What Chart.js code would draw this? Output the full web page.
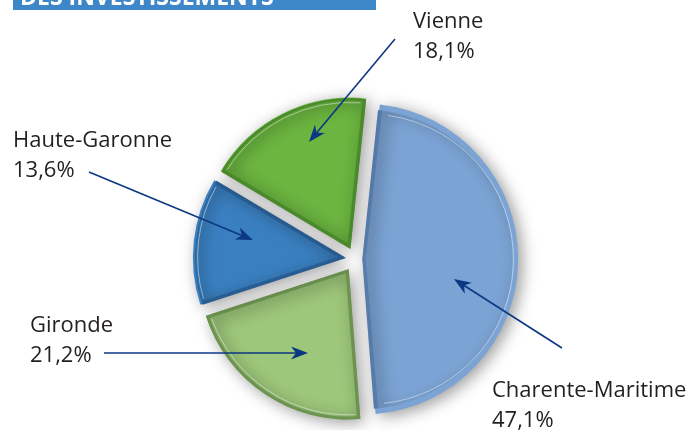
<!DOCTYPE html>
<html>
<head>
<meta charset="utf-8">
<script src="https://cdn.jsdelivr.net/npm/chart.js@4"></script>
<style>
    body { margin: 0; background: #fff; }
    #pie { display: block; }
</style>
</head>
<body>
<canvas id="pie" width="691" height="430"></canvas>
<script>
const departements = ['Charente-Maritime', 'Gironde', 'Haute-Garonne', 'Vienne'];
const parts = [47.1, 21.2, 13.6, 18.1];
const couleurs = ['#7ba3d3', '#9dc77a', '#3a80c1', '#6bb540'];
const bordures = ['#587ead', '#6c9450', '#285d93', '#4a8a2b'];

// positions of the labels and of the arrows (layout only)
const etiquettes = [
    { x: 492, y: 397, from: [562, 348], to: [454, 279] },
    { x: 30, y: 332, from: [104, 353], to: [308, 353] },
    { x: 13, y: 147, from: [89, 172], to: [253, 240] },
    { x: 413, y: 28, from: [395, 39], to: [309, 142] }
];

const titre = 'DES INVESTISSEMENTS';
const ECART = 13; // how far each slice is pulled out, in px

const formatPct = v => v.toFixed(1).replace('.', ',') + '%';

// Chart.js moves an arc by offset/4 * (2 - sin(angle)); undo that so every slice moves ECART px
function facteur(i) {
    const total = parts.reduce((a, b) => a + b, 0);
    const a = parts[i] / total * 2 * Math.PI;
    return (2 - Math.sin(Math.min(Math.PI, a))) / 4;
}

function drawArrow(ctx, from, to) {
    const ang = Math.atan2(to[1] - from[1], to[0] - from[0]);
    const len = 17, half = 6.5, notch = 12;
    ctx.save();
    ctx.strokeStyle = '#0c3783';
    ctx.fillStyle = '#0c3783';
    ctx.lineWidth = 1.6;
    ctx.beginPath();
    ctx.moveTo(from[0], from[1]);
    ctx.lineTo(to[0] - Math.cos(ang) * notch, to[1] - Math.sin(ang) * notch);
    ctx.stroke();
    ctx.translate(to[0], to[1]);
    ctx.rotate(ang);
    ctx.beginPath();
    ctx.moveTo(0, 0);
    ctx.lineTo(-len, -half);
    ctx.lineTo(-notch, 0);
    ctx.lineTo(-len, half);
    ctx.closePath();
    ctx.fill();
    ctx.restore();
}

const ombre = {
    id: 'ombre',
    beforeDatasetDraw(chart) {
        const ctx = chart.ctx;
        ctx.save();
        ctx.shadowColor = 'rgba(0, 0, 0, 0.4)';
        ctx.shadowBlur = 16;
        ctx.shadowOffsetX = 4;
        ctx.shadowOffsetY = 3;
    },
    afterDatasetDraw(chart) {
        chart.ctx.restore();
        // thin light line inside the rim
        const ctx = chart.ctx;
        const meta = chart.getDatasetMeta(0);
        meta.data.forEach((arc, i) => {
            const mid = (arc.startAngle + arc.endAngle) / 2;
            const off = arc.options.offset * facteur(i);
            const cx = arc.x + Math.cos(mid) * off;
            const cy = arc.y + Math.sin(mid) * off;
            ctx.save();
            ctx.strokeStyle = 'rgba(255, 255, 255, 0.45)';
            ctx.lineWidth = 1;
            ctx.beginPath();
            ctx.arc(cx, cy, arc.outerRadius - 5, arc.startAngle + 0.03, arc.endAngle - 0.03);
            ctx.stroke();
            ctx.restore();
        });
    }
};

const annotations = {
    id: 'annotations',
    afterDraw(chart) {
        const ctx = chart.ctx;
        // bandeau du titre, coupé en haut
        ctx.save();
        ctx.fillStyle = '#3d87c8';
        ctx.fillRect(13, 0, 363, 10);
        ctx.beginPath();
        ctx.rect(13, 0, 363, 10);
        ctx.clip();
        ctx.fillStyle = '#fff';
        ctx.font = 'bold 23px "Open Sans"';
        ctx.textBaseline = 'alphabetic';
        ctx.fillText(titre, 20, 5);
        ctx.restore();

        ctx.save();
        ctx.fillStyle = '#231f20';
        ctx.font = '22px "Open Sans"';
        ctx.textBaseline = 'alphabetic';
        departements.forEach((d, i) => {
            const e = etiquettes[i];
            ctx.fillText(d, e.x, e.y);
            ctx.fillText(formatPct(parts[i]), e.x, e.y + 30);
        });
        ctx.restore();

        etiquettes.forEach(e => drawArrow(ctx, e.from, e.to));
    }
};

new Chart(document.getElementById('pie'), {
    type: 'pie',
    data: {
        labels: departements,
        datasets: [{
            data: parts,
            backgroundColor: couleurs,
            borderColor: bordures,
            borderWidth: 3,
            borderAlign: 'inner',
            offset: c => ECART / facteur(c.dataIndex)
        }]
    },
    options: {
        responsive: false,
        animation: false,
        rotation: 6,
        radius: 150,
        layout: {
            padding: { left: 104, right: 84, top: 98, bottom: 10 }
        },
        plugins: {
            legend: { display: false },
            tooltip: { enabled: false }
        }
    },
    plugins: [ombre, annotations]
});
</script>
</body>
</html>
